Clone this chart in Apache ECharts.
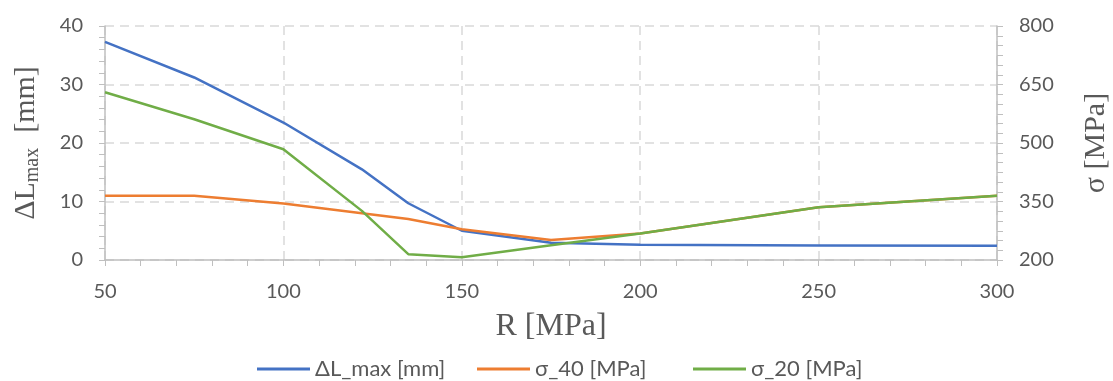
<!DOCTYPE html>
<html>
<head>
<meta charset="utf-8">
<script src="https://cdn.jsdelivr.net/npm/echarts@6/dist/echarts.min.js"></script>
<style>
  html, body { margin: 0; padding: 0; background: #fff; }
  #chart { width: 1113px; height: 381px; }
</style>
</head>
<body>
<div id="chart"></div>
<script>
// R [MPa]
var rValues = [50, 75, 100, 122, 135, 150, 175, 200, 250, 300]
// ΔL_max [mm], left axis
var dLmax = [37.3, 31.2, 23.5, 15.5, 9.7, 5.0, 2.95, 2.6, 2.5, 2.45]
// σ_40 / σ_20 [MPa], right axis
var sigma40 = [365, 365, 345, 320, 305, 279, 251, 268, 335, 365]
var sigma20 = [630, 561, 484, 326, 215, 207, 238, 268, 335, 365]

var seriesNames = ['ΔL_max [mm]', 'σ_40 [MPa]', 'σ_20 [MPa]']
var colors = ['#4472C4', '#ED7D31', '#70AD47']
var legendLefts = [252, 472, 688]

function pairs (xs, ys) {
  return xs.map(function (x, i) { return [x, ys[i]] })
}

var labelFont = 'Lato, "Open Sans", sans-serif'
var nameFont = '"Liberation Serif", "DejaVu Serif", serif'
var axisGray = '#bfbfbf'
var textGray = '#595959'

var chartDom = document.getElementById('chart')
var myChart = echarts.init(chartDom)
var option

// one legend box per series so each item sits where Excel put it
var legends = seriesNames.map(function (name, i) {
  return {
    bottom: -4,
    left: legendLefts[i],
    itemWidth: 53,
    itemHeight: 3,
    icon: 'rect',
    textStyle: { fontFamily: labelFont, fontSize: 22, color: textGray },
    data: [name]
  }
})

option = {
  animation: false,
  color: colors,
  grid: { left: 105, right: 116, top: 26, bottom: 121, outerBoundsMode: 'none', containLabel: false },
  legend: legends,
  xAxis: {
    type: 'value',
    min: 50,
    max: 300,
    interval: 50,
    name: 'R [MPa]',
    nameLocation: 'middle',
    nameGap: 51,
    nameTextStyle: { fontFamily: nameFont, fontSize: 32, color: textGray },
    axisLine: { show: true, lineStyle: { color: axisGray, width: 1.5 } },
    axisTick: { show: true, length: 6, lineStyle: { color: axisGray } },
    minorTick: { show: true, splitNumber: 5, length: 6, lineStyle: { color: axisGray } },
    axisLabel: { margin: 22, fontFamily: labelFont, fontSize: 20, color: textGray },
    splitLine: { show: true, lineStyle: { color: '#d9d9d9', type: [9, 6], width: 1.5 } }
  },
  yAxis: [{
    type: 'value',
    min: 0,
    max: 40,
    interval: 10,
    position: 'left',
    name: '{a|ΔL}{sub|max}{a|  [mm]}',
    nameLocation: 'middle',
    nameGap: 62,
    nameRotate: 90,
    nameTextStyle: {
      rich: {
        a: { fontFamily: nameFont, fontSize: 30, color: textGray, lineHeight: 34 },
        sub: { fontFamily: nameFont, fontSize: 20, color: textGray, lineHeight: 20, verticalAlign: 'bottom' }
      }
    },
    axisLine: { show: true, lineStyle: { color: axisGray, width: 1.5 } },
    axisTick: { show: true, length: 6, lineStyle: { color: axisGray } },
    minorTick: { show: true, splitNumber: 5, length: 6, lineStyle: { color: axisGray } },
    axisLabel: { margin: 22, fontFamily: labelFont, fontSize: 20, color: textGray },
    splitLine: { show: true, lineStyle: { color: '#d9d9d9', type: [9, 6], width: 1.5 } }
  }, {
    type: 'value',
    min: 200,
    max: 800,
    interval: 150,
    position: 'right',
    name: 'σ [MPa]',
    nameLocation: 'middle',
    nameGap: 84,
    nameRotate: 90,
    nameTextStyle: { fontFamily: nameFont, fontSize: 30, color: textGray },
    axisLine: { show: true, lineStyle: { color: axisGray, width: 1.5 } },
    axisTick: { show: true, length: 6, lineStyle: { color: axisGray } },
    minorTick: { show: true, splitNumber: 6, length: 6, lineStyle: { color: axisGray } },
    axisLabel: { margin: 22, fontFamily: labelFont, fontSize: 20, color: textGray },
    splitLine: { show: false }
  }],
  series: [{
    name: seriesNames[0],
    type: 'line',
    yAxisIndex: 0,
    symbol: 'none',
    lineStyle: { width: 2.5 },
    data: pairs(rValues, dLmax)
  }, {
    name: seriesNames[1],
    type: 'line',
    yAxisIndex: 1,
    symbol: 'none',
    lineStyle: { width: 2.5 },
    data: pairs(rValues, sigma40)
  }, {
    name: seriesNames[2],
    type: 'line',
    yAxisIndex: 1,
    symbol: 'none',
    lineStyle: { width: 2.5 },
    data: pairs(rValues, sigma20)
  }]
}

option && myChart.setOption(option)
window.addEventListener('resize', () => myChart.resize())
</script>
</body>
</html>
